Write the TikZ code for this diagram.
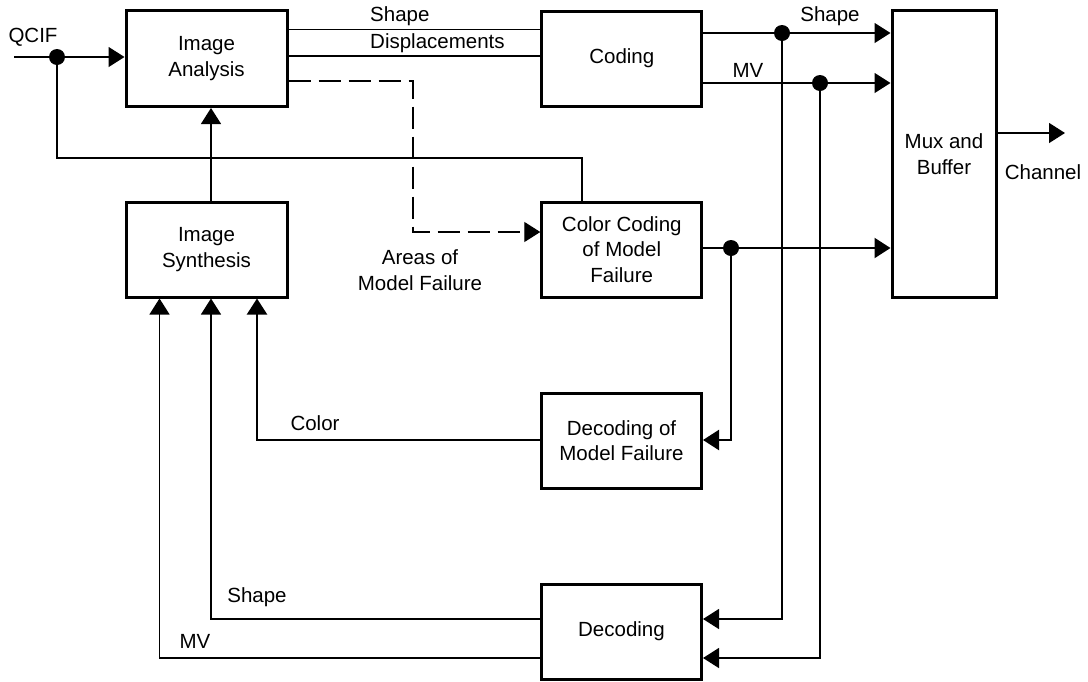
\documentclass[tikz,border=0pt]{standalone}
\usepackage{fontspec}
\setmainfont{Liberation Sans}
\usetikzlibrary{arrows.meta}
\begin{document}
\begin{tikzpicture}[x=1pt,y=-1pt,
  box/.style={draw, line width=3pt, minimum width=160pt, minimum height=95pt, inner sep=0pt, align=center, font=\fontsize{20.5}{25.5}\selectfont},
  lbl/.style={inner sep=0pt, align=center, font=\fontsize{20.5}{25.5}\selectfont},
  sig/.style={line width=1.3pt},
  bsig/.style={line width=2.2pt},
  arr/.style={-{Triangle[length=16pt,width=20pt]}},
  dashline/.style={dash pattern=on 22pt off 8pt},
  dot/.style={circle, fill, inner sep=0pt, minimum size=16pt},
]
\useasboundingbox (0,0) rectangle (1088,681);

% boxes
\node[box, minimum width=161pt, minimum height=96pt] (IA) at (206.5,58.5) {Image\\Analysis};
\node[box, minimum width=161pt] (IS) at (206.5,249.5) {Image\\Synthesis};
\node[box] (CO) at (621.8,58.5) {Coding};
\node[box] (CC) at (621.8,249.5) {Color Coding\\of Model\\Failure};
\node[box] (DM) at (621.5,440.5) {Decoding of\\Model Failure};
\node[box] (DE) at (621.5,631.5) {Decoding};
\node[box, minimum width=104pt, minimum height=287pt] (MX) at (944,154) {Mux and\\Buffer};

% QCIF input
\coordinate (qin) at (14,57);
\node[dot] (j1) at (57,57) {};
\node[lbl] (lq) at (33,37) {QCIF};
\draw[sig] (qin) -- (j1);
\draw[sig,arr] (j1) -- (j1 -| IA.west);
\coordinate (fb1) at (57,158);
\coordinate (fb2) at (582,158);
\draw[sig] (j1) -- (fb1) -- (fb2) -- (fb2 |- CC.north);

% synthesis -> analysis
\coordinate (sx) at (211,0);
\draw[sig,arr] (sx |- IS.north) -- (sx |- IA.south);

% analysis -> coding
\coordinate (ys) at (0,29.3);
\coordinate (yd) at (0,56);
\draw[sig] (ys -| IA.east) -- (ys -| CO.west);
\draw[sig] (yd -| IA.east) -- (yd -| CO.west);
\node[lbl, anchor=west] (lsh) at (370,16) {Shape};
\node[lbl, anchor=west] (ldi) at (370,43) {Displacements};

% dashed areas of model failure
\coordinate (d1) at (413,81);
\coordinate (d2) at (413,232);
\draw[sig,dashline,arr] (d1 -| IA.east) -- (d1) -- (d2) -- (d2 -| CC.west);
\node[lbl] (lar) at (420,270) {Areas of\\Model Failure};

% coding -> mux
\coordinate (y1) at (0,33);
\coordinate (y2) at (0,83);
\coordinate (y3) at (0,248);
\draw[sig,arr] (y1 -| CO.east) -- (y1 -| MX.west);
\draw[sig,arr] (y2 -| CO.east) -- (y2 -| MX.west);
\node[dot] (j2) at (782,33) {};
\node[dot] (j3) at (820,83) {};
\node[lbl] (lsh2) at (830,16) {Shape};
\node[lbl] (lmv) at (748,70) {MV};
\coordinate (r1) at (782,619);
\coordinate (r2) at (820,658);
\draw[sig,arr] (j2) -- (r1) -- (r1 -| DE.east);
\draw[sig,arr] (j3) -- (r2) -- (r2 -| DE.east);

% color coding -> mux
\node[dot] (j4) at (731,248) {};
\draw[bsig,arr] (y3 -| CC.east) -- (y3 -| MX.west);
\coordinate (r3) at (731,440);
\draw[bsig,arr] (j4) -- (r3) -- (r3 -| DM.east);

% decoding of model failure -> synthesis
\coordinate (c1) at (257,440);
\draw[bsig,arr] (c1 -| DM.west) -- (c1) -- (c1 |- IS.south);
\node[lbl] (lco) at (315,423) {Color};

% decoding -> synthesis
\coordinate (s1) at (211,619);
\coordinate (m1) at (159.5,658);
\draw[sig,arr] (s1 -| DE.west) -- (s1) -- (s1 |- IS.south);
\draw[sig,arr] (m1 -| DE.west) -- (m1) -- (m1 |- IS.south);
\node[lbl] (lsh3) at (257,597) {Shape};
\node[lbl] (lmv2) at (195,641) {MV};

% channel
\coordinate (ch) at (1065,133);
\draw[sig,arr] (ch -| MX.east) -- (ch);
\node[lbl] (lch) at (1043,172) {Channel};
\end{tikzpicture}
\end{document}
